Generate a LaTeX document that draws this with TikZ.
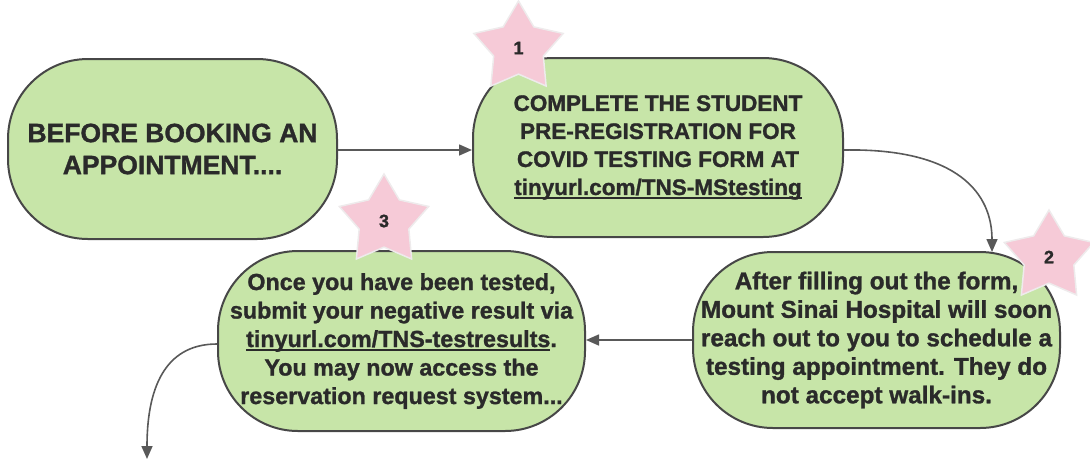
\documentclass[tikz,border=0pt]{standalone}
\usepackage{fontspec}
\setmainfont{Liberation Sans}[BoldFeatures={FakeBold=1.2}]
\usetikzlibrary{shapes.geometric,arrows.meta}
\definecolor{boxfill}{HTML}{C7E5A8}
\definecolor{boxline}{HTML}{474747}
\definecolor{txt}{HTML}{2A2A2A}
\definecolor{arr}{HTML}{595959}
\definecolor{starfill}{HTML}{F6CAD7}
\definecolor{starline}{HTML}{EEEBEC}
\newcommand\ulk[1]{\setbox0\hbox{#1}\rlap{\rule[-4pt]{\wd0}{1.6pt}}\box0}
\begin{document}
\begin{tikzpicture}[x=1pt,y=-1pt,
 flowbox/.style={draw=boxline, fill=boxfill, line width=2pt, rounded corners=80pt, inner sep=0pt, align=center, text=txt},
 badge/.style={star, star points=5, star point ratio=1.8, fill=starfill, draw=starline, line width=1.5pt, minimum size=94pt, inner sep=0pt, text=txt, font=\bfseries\fontsize{18}{18}\selectfont},
 link/.style={draw=arr, line width=1.6pt, -{Triangle[length=13pt,width=11pt]}}]
\useasboundingbox (0,0) rectangle (1090,459);

\node[flowbox, minimum width=329pt, minimum height=180pt, font=\bfseries\fontsize{26.5}{32}\selectfont] (A) at (172.5,149) {BEFORE BOOKING AN\\APPOINTMENT....};

\node[flowbox, minimum width=370pt, minimum height=179pt, font=\bfseries\fontsize{22.5}{28}\selectfont] (B) at (658,147.5) {COMPLETE THE STUDENT\\PRE-REGISTRATION FOR\\COVID TESTING FORM AT\\\ulk{tinyurl.com/TNS-MStesting}};

\node[flowbox, minimum width=367pt, minimum height=176pt, font=\bfseries\fontsize{24.3}{28.5}\selectfont] (C) at (876.5,340) {After filling out the form,\\Mount Sinai Hospital will soon\\reach out to you to schedule a\\testing appointment. They do\\not accept walk-ins.};

\node[flowbox, minimum width=367pt, minimum height=180pt, font=\bfseries\fontsize{23.3}{28.5}\selectfont] (D) at (401.5,341) {Once you have been tested,\\submit your negative result via\\\ulk{tinyurl.com/TNS-testresults}.\\You may now access the\\reservation request system...};

\node[badge] (s1) at (518.5,48) {1};
\node[badge] (s3) at (384,221) {3};
\node[badge] (s2) at (1049,257) {2};

\coordinate (c2) at (992,252);
\coordinate (out) at (147,459);

\draw[link] (A.east |- 0,150) -- (B.west |- 0,150);
\draw[link] (B.east |- 0,150) .. controls (960,148) and (992,195) .. (c2);
\draw[link] (C.west) -- (D.east |- C.west);
\draw[link] (D.west |- 0,344) .. controls (170,344) and (147,380) .. (out);
\end{tikzpicture}
\end{document}
